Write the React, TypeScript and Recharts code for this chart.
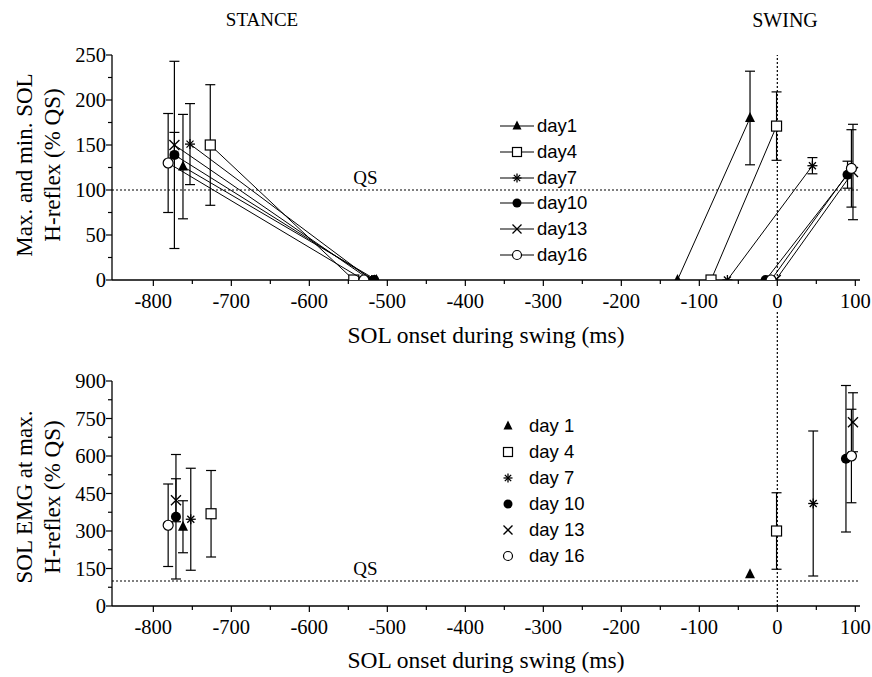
import { ScatterChart, Scatter, XAxis, YAxis, ErrorBar, ReferenceLine, ReferenceDot } from 'recharts'

const SERIF = '"Liberation Serif", "Times New Roman", serif'
const SANS = '"Liberation Sans", Arial, sans-serif'

const days = ['day1', 'day4', 'day7', 'day10', 'day13', 'day16']
const dayLabels = ['day 1', 'day 4', 'day 7', 'day 10', 'day 13', 'day 16']
const markerKinds = ['tri', 'sq', 'ast', 'dot', 'cross', 'ring']

// top panel: max / min H-reflex (% QS)
const stanceMaxMs = [-762, -727, -753, -773, -773, -781]
const stanceMaxPct = [126, 150, 151, 139, 150, 130]
const stanceMaxSd = [58, 67, 45, 104, 14, 55]
const stanceMinMs = [-514, -543, -520, -517, -522, -530]
const swingMinMs = [-128, -85, -64, -15, -2, -8]
const swingMaxMs = [-35, -1, 45, 90, 97, 95]
const swingMaxPct = [180, 171, 127, 117, 120, 124]
const swingMaxSd = [52, 38, 9, 15, 53, 43]

// bottom panel: SOL EMG at max H-reflex (% QS)
const emgStanceMs = [-762, -726, -752, -771, -771, -781]
const emgStancePct = [317, 369, 347, 357, 423, 323]
const emgStanceSd = [104, 173, 204, 249, 86, 165]
const emgSwingMs = [-35, -1, 46, 88, 97, 95]
const emgSwingPct = [127, 300, 410, 589, 735, 600]
const emgSwingSd = [0, 153, 290, 293, 118, 187]

const xTicks = [-800, -750, -700, -650, -600, -550, -500, -450, -400, -350, -300, -250, -200, -150, -100, -50, 0, 50, 100]
const topYTicks = [0, 25, 50, 75, 100, 125, 150, 175, 200, 225, 250]
const bottomYTicks = [0, 75, 150, 225, 300, 375, 450, 525, 600, 675, 750, 825, 900]
const QS = 100

const X_DOMAIN: [number, number] = [-853, 106]

const topStance = days.map((_, i) => [
  { x: stanceMaxMs[i], y: stanceMaxPct[i], sd: stanceMaxSd[i] },
  { x: stanceMinMs[i], y: 0, sd: 0 },
])
const topSwing = days.map((_, i) => [
  { x: swingMinMs[i], y: 0, sd: 0 },
  { x: swingMaxMs[i], y: swingMaxPct[i], sd: swingMaxSd[i] },
])
const emgStance = days.map((_, i) => [{ x: emgStanceMs[i], y: emgStancePct[i], sd: emgStanceSd[i] }])
const emgSwing = days.map((_, i) => [{ x: emgSwingMs[i], y: emgSwingPct[i], sd: emgSwingSd[i] }])

const Marker = ({ kind, cx, cy, s = 5 }: { kind: string; cx: number; cy: number; s?: number }) => {
  switch (kind) {
    case 'tri':
      return <polygon points={`${cx},${cy - s - 1} ${cx - s},${cy + s - 1} ${cx + s},${cy + s - 1}`} fill="#000" />
    case 'sq':
      return <rect x={cx - s} y={cy - s} width={s * 2} height={s * 2} fill="#fff" stroke="#000" strokeWidth={1.2} />
    case 'ast':
      return (
        <g stroke="#000" strokeWidth={1.3}>
          <line x1={cx} x2={cx} y1={cy - s} y2={cy + s} />
          <line x1={cx - s} x2={cx + s} y1={cy} y2={cy} />
          <line x1={cx - s * 0.7} x2={cx + s * 0.7} y1={cy - s * 0.7} y2={cy + s * 0.7} />
          <line x1={cx - s * 0.7} x2={cx + s * 0.7} y1={cy + s * 0.7} y2={cy - s * 0.7} />
        </g>
      )
    case 'dot':
      return <circle cx={cx} cy={cy} r={s} fill="#000" />
    case 'cross':
      return (
        <g stroke="#000" strokeWidth={1.3}>
          <line x1={cx - s} x2={cx + s} y1={cy - s} y2={cy + s} />
          <line x1={cx - s} x2={cx + s} y1={cy + s} y2={cy - s} />
        </g>
      )
    default:
      return <circle cx={cx} cy={cy} r={s} fill="#fff" stroke="#000" strokeWidth={1.2} />
  }
}

const TICK_FONT = 20.5

const XTick = (props: any) => {
  const { x, y, payload } = props
  const axisY = y - 8
  const major = payload.value % 100 === 0
  return (
    <g>
      <line x1={x} x2={x} y1={axisY} y2={axisY + (major ? 6 : 4)} stroke="#000" strokeWidth={1.2} />
      {major && (
        <text x={x} y={axisY + 28} textAnchor="middle" fontFamily={SERIF} fontSize={TICK_FONT} fill="#000">
          {payload.value}
        </text>
      )}
    </g>
  )
}

const makeYTick = (step: number) => (props: any) => {
  const { x, y, payload } = props
  const axisX = x + 8
  const major = payload.value % step === 0
  return (
    <g>
      <line x1={axisX - (major ? 6 : 4)} x2={axisX} y1={y} y2={y} stroke="#000" strokeWidth={1.2} />
      {major && (
        <text x={axisX - 6} y={y + 7} textAnchor="end" fontFamily={SERIF} fontSize={TICK_FONT} fill="#000">
          {payload.value}
        </text>
      )}
    </g>
  )
}

const axisLine = { stroke: '#000', strokeWidth: 1.3 }
const dotted = { stroke: '#000', strokeWidth: 1.2, strokeDasharray: '2 2' }
const xTitle = (offset: number) => ({
  value: 'SOL onset during swing (ms)',
  position: 'insideBottom' as const,
  offset,
  fill: '#000',
  fontSize: 23.5,
  fontFamily: SERIF,
})
const qsLabel = { value: 'QS', position: 'top' as const, offset: 6, fill: '#000', fontSize: 19, fontFamily: SERIF }

const RotText = ({ x, y, children }: { x: number; y: number; children: string }) => (
  <div
    style={{
      position: 'absolute',
      left: x,
      top: y,
      transform: 'translate(-50%, -50%) rotate(-90deg)',
      whiteSpace: 'nowrap',
      fontSize: 23,
      lineHeight: 1,
    }}
  >
    {children}
  </div>
)

const App = () => {
  return (
    <div style={{ position: 'absolute', left: 0, top: 0, width: 872, height: 677, background: '#fff', fontFamily: SERIF, color: '#000' }}>
      <div style={{ position: 'absolute', left: 262, top: 20, transform: 'translate(-50%, -50%)', fontSize: 19 }}>STANCE</div>
      <div style={{ position: 'absolute', left: 785, top: 20, transform: 'translate(-50%, -50%)', fontSize: 20 }}>SWING</div>
      <RotText x={24} y={165}>Max. and min. SOL</RotText>
      <RotText x={52} y={165}>H-reflex (% QS)</RotText>
      <RotText x={24} y={497}>SOL EMG at max.</RotText>
      <RotText x={52} y={497}>H-reflex (% QS)</RotText>

      <div style={{ position: 'absolute', left: 0, top: 0 }}>
        <ScatterChart width={872} height={360} margin={{ top: 55, right: 12, bottom: 0, left: 0 }}>
          <XAxis type="number" dataKey="x" domain={X_DOMAIN} ticks={xTicks} interval={0} tickLine={false} tick={XTick} height={80} axisLine={axisLine} allowDataOverflow label={xTitle(17)} />
          <YAxis type="number" dataKey="y" domain={[0, 250]} ticks={topYTicks} interval={0} tickLine={false} tick={makeYTick(50)} width={112} axisLine={axisLine} allowDataOverflow />
          <ReferenceLine y={QS} {...dotted} ifOverflow="visible" />
          <ReferenceLine x={0} {...dotted} ifOverflow="visible" />
          <ReferenceDot x={-528} y={QS} r={0} fill="none" stroke="none" label={qsLabel} ifOverflow="visible" />
          {days.map((d, i) => (
            <Scatter key={d + '-stance'} name={d} data={topStance[i]} line={{ stroke: '#000', strokeWidth: 1 }} isAnimationActive={false} shape={(p: any) => <Marker kind={markerKinds[i]} cx={p.cx} cy={p.cy} />}>
              <ErrorBar dataKey="sd" direction="y" width={5} stroke="#000" strokeWidth={1.2} isAnimationActive={false} />
            </Scatter>
          ))}
          {days.map((d, i) => (
            <Scatter key={d + '-swing'} name={d} data={topSwing[i]} line={{ stroke: '#000', strokeWidth: 1 }} isAnimationActive={false} shape={(p: any) => <Marker kind={markerKinds[i]} cx={p.cx} cy={p.cy} />}>
              <ErrorBar dataKey="sd" direction="y" width={5} stroke="#000" strokeWidth={1.2} isAnimationActive={false} />
            </Scatter>
          ))}
        </ScatterChart>
      </div>

      <div style={{ position: 'absolute', left: 0, top: 300 }}>
        <ScatterChart width={872} height={377} margin={{ top: 81, right: 12, bottom: 0, left: 0 }}>
          <XAxis type="number" dataKey="x" domain={X_DOMAIN} ticks={xTicks} interval={0} tickLine={false} tick={XTick} height={71} axisLine={axisLine} allowDataOverflow label={xTitle(9)} />
          <YAxis type="number" dataKey="y" domain={[0, 900]} ticks={bottomYTicks} interval={0} tickLine={false} tick={makeYTick(150)} width={112} axisLine={axisLine} allowDataOverflow />
          <ReferenceLine y={QS} {...dotted} ifOverflow="visible" />
          <ReferenceLine segment={[{ x: 0, y: 0 }, { x: 0, y: 1184 }]} {...dotted} ifOverflow="visible" />
          <ReferenceDot x={-528} y={QS} r={0} fill="none" stroke="none" label={qsLabel} ifOverflow="visible" />
          {days.map((d, i) => (
            <Scatter key={d + '-emg-stance'} name={d} data={emgStance[i]} isAnimationActive={false} shape={(p: any) => <Marker kind={markerKinds[i]} cx={p.cx} cy={p.cy} />}>
              <ErrorBar dataKey="sd" direction="y" width={5} stroke="#000" strokeWidth={1.2} isAnimationActive={false} />
            </Scatter>
          ))}
          {days.map((d, i) => (
            <Scatter key={d + '-emg-swing'} name={d} data={emgSwing[i]} isAnimationActive={false} shape={(p: any) => <Marker kind={markerKinds[i]} cx={p.cx} cy={p.cy} />}>
              <ErrorBar dataKey="sd" direction="y" width={5} stroke="#000" strokeWidth={1.2} isAnimationActive={false} />
            </Scatter>
          ))}
        </ScatterChart>
      </div>

      {days.map((d, i) => (
        <div key={d + '-lg1'} style={{ position: 'absolute', left: 499, top: 126 + i * 25.8 - 10, height: 20, display: 'flex', alignItems: 'center', fontFamily: SANS, fontSize: 18.5 }}>
          <svg width={36} height={20}>
            <line x1={1} x2={35} y1={10} y2={10} stroke="#000" strokeWidth={1.2} />
            <Marker kind={markerKinds[i]} cx={18} cy={10} s={4.5} />
          </svg>
          <span style={{ marginLeft: 2 }}>{d}</span>
        </div>
      ))}
      {days.map((d, i) => (
        <div key={d + '-lg2'} style={{ position: 'absolute', left: 499, top: 426 + i * 26 - 10, height: 20, display: 'flex', alignItems: 'center', fontFamily: SANS, fontSize: 18.5 }}>
          <svg width={18} height={20}>
            <Marker kind={markerKinds[i]} cx={9} cy={10} s={4.5} />
          </svg>
          <span style={{ marginLeft: 12 }}>{dayLabels[i]}</span>
        </div>
      ))}
    </div>
  )
}

export default App
